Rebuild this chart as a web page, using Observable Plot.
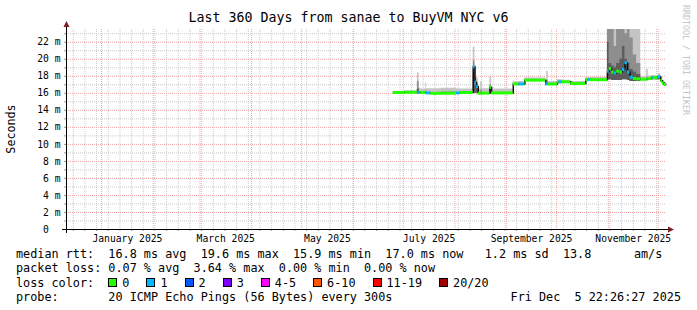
<!DOCTYPE html>
<html>
<head>
<meta charset="utf-8">
<script src="https://cdn.jsdelivr.net/npm/d3@7"></script>
<script src="https://cdn.jsdelivr.net/npm/@observablehq/plot@0.6"></script>
<style>
  html, body { margin:0; padding:0; background:#fff; }
  #wrap { position:relative; width:697px; height:310px; overflow:hidden; background:#fff;
          font-family:"DejaVu Sans Mono", monospace; color:#000; }
  #chart { position:absolute; left:0; top:0; }
  #title { position:absolute; left:0; top:10.4px; width:697px; text-align:center;
           font-size:13.3px; line-height:16px; white-space:pre; }
  #legend { position:absolute; left:16px; top:247.4px; font-size:11.8px; line-height:14.1px; white-space:pre; }
  #stamp { position:absolute; right:16px; top:289.7px; font-size:11.8px; line-height:14.1px; white-space:pre; }
  .box { display:inline-block; width:7px; height:7px; border:1px solid #000; margin-right:5px; }
  .item { margin-right:17px; }
</style>
</head>
<body>
<div id="wrap">
  <div id="chart"></div>
  <div id="title"></div>
  <div id="legend"></div>
  <div id="stamp"></div>
</div>
<script>
// ---------------- data ----------------
const titleText = "Last 360 Days from sanae to BuyVM NYC v6";
const endTime = "2025-12-05T22:26:27Z";
const spanDays = 360;

const dates = [
  "2025-06-25T00:00Z","2025-07-02T00:00Z","2025-07-09T00:00Z","2025-07-09T12:00Z","2025-07-10T12:00Z",
  "2025-07-11T12:00Z","2025-07-14T12:00Z","2025-07-15T00:00Z","2025-07-17T12:00Z","2025-07-24T00:00Z",
  "2025-08-02T00:00Z","2025-08-04T00:00Z","2025-08-12T00:00Z","2025-08-13T00:00Z","2025-08-14T00:00Z",
  "2025-08-15T00:00Z","2025-08-16T12:00Z","2025-08-17T12:00Z","2025-08-22T00:00Z","2025-08-23T00:00Z",
  "2025-09-05T00:00Z","2025-09-08T12:00Z","2025-09-11T12:00Z","2025-09-12T00:00Z","2025-09-24T12:00Z",
  "2025-09-25T00:00Z","2025-09-26T00:00Z","2025-10-01T12:00Z","2025-10-02T12:00Z","2025-10-04T12:00Z",
  "2025-10-09T12:00Z","2025-10-18T12:00Z","2025-10-20T00:00Z","2025-10-21T00:00Z","2025-10-31T12:00Z",
  "2025-11-01T12:00Z","2025-11-03T00:00Z","2025-11-04T12:00Z","2025-11-06T00:00Z","2025-11-08T00:00Z",
  "2025-11-09T12:00Z","2025-11-11T00:00Z","2025-11-12T12:00Z","2025-11-14T00:00Z","2025-11-16T00:00Z",
  "2025-11-18T00:00Z","2025-11-20T12:00Z","2025-11-24T00:00Z","2025-11-25T00:00Z","2025-11-27T00:00Z",
  "2025-11-28T00:00Z","2025-12-01T00:00Z","2025-12-02T12:00Z","2025-12-03T12:00Z","2025-12-04T12:00Z"
];
// median rtt (ms)
const median = [
  16.10,16.12,16.12,16.10,16.12, 16.10,16.05,16.05,16.00,16.02,
  16.05,16.10,19.10,17.30,16.80, 16.00,16.00,16.02,16.70,16.05,
  17.10,17.10,17.10,17.55,17.10, 17.12,17.10,17.35,17.35,17.35,
  17.15,17.60,17.62,17.60,18.60, 18.90,18.50,18.40,18.60,18.50,
  18.80,19.60,18.50,17.90,17.75, 17.70,17.65,17.65,17.75,17.85,
  17.85,17.95,17.50,17.25,17.05
];
// lost pings out of 20
const loss = [
  0,0,0,1,1, 0,0,1,0,0,
  1,0,1,1,1, 0,0,0,0,0,
  0,1,0,0,1, 1,0,0,1,0,
  0,0,1,0,1, 0,0,1,0,0,
  1,1,1,1,0, 0,0,0,0,1,
  0,1,0,0,0
];
// smoke: lowest ping, highest ping, upper quartile, upper core (ms)
const smokeLo = [
  16.00,16.00,16.00,16.00,16.00, 16.00,16.00,15.95,15.95,15.95,
  15.95,16.00,16.00,16.00,16.00, 15.95,15.95,15.95,16.00,15.95,
  17.00,17.00,17.00,17.45,17.00, 17.00,17.00,17.25,17.25,17.25,
  17.05,17.50,17.50,17.50,17.60, 17.60,17.50,17.50,17.50,17.50,
  17.60,17.60,17.50,17.40,17.40, 17.40,17.50,17.50,17.55,17.60,
  17.60,17.60,17.30,17.10,16.95
];
const smokeHi = [
  16.25,16.30,16.45,18.40,16.60, 16.50,17.20,16.55,16.55,16.60,
  16.55,16.50,21.40,19.20,17.80, 16.50,17.40,16.55,17.90,16.50,
  17.35,17.40,17.35,17.80,17.45, 18.60,17.40,17.60,17.60,17.55,
  17.40,17.85,17.90,17.85,25.00, 25.00,25.00,25.00,25.00,25.00,
  25.00,25.00,25.00,25.00,25.00, 24.00,17.95,18.80,18.05,18.10,
  18.10,18.30,17.80,17.50,17.30
];
const smokeMid = [
  16.10,16.12,16.15,17.40,16.20, 16.15,16.30,16.10,16.10,16.15,
  16.10,16.15,19.80,17.90,17.10, 16.10,16.40,16.10,17.00,16.10,
  17.10,17.15,17.10,17.55,17.15, 17.50,17.10,17.35,17.40,17.35,
  17.15,17.60,17.65,17.60,25.00, 25.00,25.00,21.50,25.00,25.00,
  25.00,23.00,25.00,22.50,20.50, 19.50,17.70,17.90,17.80,17.90,
  17.85,18.00,17.50,17.25,17.05
];
const smokeCore = [
  16.10,16.12,16.12,16.50,16.12, 16.10,16.05,16.05,16.00,16.02,
  16.05,16.10,18.40,16.90,16.60, 16.00,16.00,16.02,16.60,16.05,
  17.10,17.10,17.10,17.55,17.10, 17.12,17.10,17.35,17.35,17.35,
  17.15,17.60,17.62,17.60,22.00, 19.50,19.20,19.00,19.50,20.00,
  21.50,20.00,19.50,18.80,18.50, 18.20,17.65,17.65,17.75,17.85,
  17.85,17.95,17.50,17.25,17.05
];

const lossBins   = [0, 1, 2, 3, 5, 10, 19, 20];
const lossLabels = ["0", "1", "2", "3", "4-5", "6-10", "11-19", "20/20"];
const lossColors = ["#26ff00", "#00b8ff", "#0059ff", "#7e00ff", "#ff00ff", "#ff5500", "#ff0000", "#a10000"];

const yTicks      = [0, 2, 4, 6, 8, 10, 12, 14, 16, 18, 20, 22];
const yTickLabels = ["0\u00a0\u00a0", "2 m", "4 m", "6 m", "8 m", "10 m", "12 m", "14 m", "16 m", "18 m", "20 m", "22 m"];
const yMax = 23.5;

const labelMonths = ["2025-01-01", "2025-03-01", "2025-05-01", "2025-07-01", "2025-09-01", "2025-11-01"];
const monthLabels = ["January 2025", "March 2025", "May 2025", "July 2025", "September 2025", "November 2025"];

const rttStats  = ["16.8 ms avg", "19.6 ms max", "15.9 ms min", "17.0 ms now", " 1.2 ms sd", "13.8      am/s"];
const lossStats = ["0.07 % avg", "3.64 % max", "0.00 % min", "0.00 % now"];
const probeText = "20 ICMP Echo Pings (56 Bytes) every 300s";
const stampText = "Fri Dec  5 22:26:27 2025";
const yLabel = "Seconds";
const watermark = "RRDTOOL / TOBI OETIKER";

// ---------------- build ----------------
const end = new Date(endTime);
const start = new Date(+end - spanDays * 864e5);
const colorFor = l => lossColors[lossBins.findIndex(b => l <= b)];

const rows = dates.map((d, i) => ({
  t: new Date(d), med: median[i], loss: loss[i],
  lo: smokeLo[i], hi: smokeHi[i], q: smokeMid[i], c: smokeCore[i]
}));
rows.forEach((r, i) => { r.t2 = i + 1 < rows.length ? rows[i + 1].t : end; });
const steps = rows.concat([{...rows[rows.length - 1], t: end}]);

const weeks = d3.utcSunday.range(start, end);
const months = d3.utcMonth.range(start, end);
const yMinor = d3.range(1, yMax, 2);
const labelMids = labelMonths.map(m => { const a = new Date(m + "T00:00Z"); return new Date((+a + +d3.utcMonth.offset(a, 1)) / 2); });
const xLabelFor = new Map(labelMids.map((d, i) => [+d, monthLabels[i]]));
const yLabelFor = new Map(yTicks.map((v, i) => [v, yTickLabels[i]]));

const minorStyle = {stroke: "#cacaca", strokeDasharray: "1,1"};
const majorStyle = {stroke: "#f0a4a4", strokeDasharray: "1,1"};

const chart = Plot.plot({
  width: 697, height: 250,
  marginLeft: 66, marginRight: 31, marginTop: 29, marginBottom: 21,
  style: {fontFamily: '"DejaVu Sans Mono", monospace', fontSize: "9.7px", background: "transparent", color: "#000"},
  x: {type: "utc", domain: [start, end]},
  y: {domain: [0, yMax]},
  marks: [
    Plot.ruleY(yMinor, minorStyle),
    Plot.ruleX(weeks, minorStyle),
    Plot.ruleY(yTicks.filter(v => v > 0), majorStyle),
    Plot.ruleX(months, majorStyle),
    Plot.areaY(steps, {x: "t", y1: "lo", y2: "hi", curve: "step-after", fill: "#c4c4c4", clip: true}),
    Plot.areaY(steps, {x: "t", y1: "lo", y2: "q", curve: "step-after", fill: "#8e8e8e", clip: true}),
    Plot.areaY(steps, {x: "t", y1: "lo", y2: "c", curve: "step-after", fill: "#5c5c5c", clip: true}),
    Plot.line(steps, {x: "t", y: "med", curve: "step-after", stroke: "#111", strokeWidth: 1.5, strokeLinecap: "butt"}),
    Plot.ruleY(rows, {y: "med", x1: "t", x2: "t2", stroke: d => colorFor(d.loss), strokeWidth: 3}),
    Plot.axisX({ticks: weeks, tickSize: 2, tickFormat: () => "", stroke: "#999", label: null}),
    Plot.axisX({ticks: labelMids, tickSize: 0, tickPadding: 5.5, tickFormat: d => xLabelFor.get(+d), label: null}),
    Plot.axisY({ticks: d3.range(0, yMax, 1), tickSize: 2, tickFormat: () => "", stroke: "#999", label: null}),
    Plot.axisY({ticks: yTicks, tickSize: 0, tickPadding: 6, tickFormat: d => yLabelFor.get(d), label: null})
  ]
});
document.getElementById("chart").appendChild(chart);

// axes lines, arrows, unit label, watermark
const svg = d3.select(chart);
const xs = chart.scale("x"), ys = chart.scale("y");
const ax0 = xs.apply(start), ax1 = xs.apply(end), ay0 = ys.apply(0), ayT = ys.apply(yMax);
const g = svg.append("g");
g.append("line").attr("x1", ax0 - 4).attr("x2", ax1 + 3).attr("y1", ay0 + 0.5).attr("y2", ay0 + 0.5)
  .attr("stroke", "#000").attr("stroke-width", 1);
g.append("line").attr("x1", ax0 + 0.5).attr("x2", ax0 + 0.5).attr("y1", ay0 + 4).attr("y2", ayT - 3)
  .attr("stroke", "#000").attr("stroke-width", 1);
g.append("path").attr("d", `M${ax1 + 2},${ay0 + 0.5 - 3}L${ax1 + 8},${ay0 + 0.5}L${ax1 + 2},${ay0 + 0.5 + 3}Z`).attr("fill", "#7f1f1f");
g.append("path").attr("d", `M${ax0 + 0.5 - 3},${ayT - 2}L${ax0 + 0.5},${ayT - 8}L${ax0 + 0.5 + 3},${ayT - 2}Z`).attr("fill", "#7f1f1f");
svg.append("text").attr("transform", `translate(15,${(ay0 + ayT) / 2}) rotate(-90)`)
  .attr("text-anchor", "middle").attr("fill", "#000")
  .style("font", '11.7px "DejaVu Sans Mono", monospace').text(yLabel);
svg.append("text").attr("transform", "translate(683,5) rotate(90)")
  .attr("text-anchor", "start").attr("fill", "#c4c4c4")
  .style("font", '8.3px "DejaVu Sans Mono", monospace').text(watermark);

// title and legend
document.getElementById("title").textContent = titleText;
const legend = document.getElementById("legend");
const l1 = document.createElement("div"); l1.textContent = "median rtt:  " + rttStats.join("  ");
const l2 = document.createElement("div"); l2.textContent = "packet loss: " + lossStats.join("  ");
const l3 = document.createElement("div"); l3.textContent = "loss color:  ";
lossLabels.forEach((lab, i) => {
  const b = document.createElement("span"); b.className = "box"; b.style.background = lossColors[i];
  const s = document.createElement("span"); s.className = "item"; s.textContent = lab;
  l3.appendChild(b); l3.appendChild(s);
});
const l4 = document.createElement("div"); l4.textContent = "probe:       " + probeText;
[l1, l2, l3, l4].forEach(e => legend.appendChild(e));
document.getElementById("stamp").textContent = stampText;
</script>
</body>
</html>
